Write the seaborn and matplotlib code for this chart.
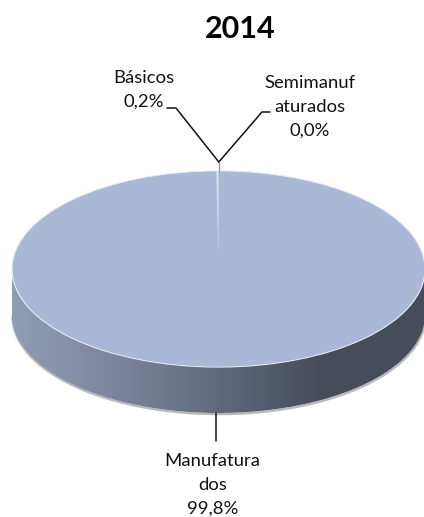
import numpy as np
import matplotlib
matplotlib.use("Agg")
import matplotlib.pyplot as plt
from matplotlib.colors import LinearSegmentedColormap
from matplotlib.patches import PathPatch, Circle
from matplotlib.path import Path
import seaborn as sns

title = "2014"
categories = ["Manufaturados", "Básicos", "Semimanufaturados"]
label_lines = ["Manufatura\ndos", "Básicos", "Semimanuf\naturados"]
shares = [99.8, 0.2, 0.0]

sns.set_theme(style="white")
plt.rcParams["font.family"] = ["Lato", "DejaVu Sans"]

W, H = 424, 517
CX, CY, RX, RY, DEPTH = 218.5, 269.0, 206.5, 98.0, 46.0
fig = plt.figure(figsize=(W / 100, H / 100), dpi=100, facecolor="white")
ax = fig.add_axes([0, 0, 1, 1])

def ux(px):
    return (px - CX) / RX

def uy(py):
    return (CY - py) / RY

# cylinder side, drawn below the pie top
t = np.linspace(np.pi, 2 * np.pi, 240)
d = DEPTH / RY
top_edge = np.column_stack([np.cos(t), np.sin(t)])
low_edge = np.column_stack([np.cos(t[::-1]), np.sin(t[::-1]) - d])
side = Path(np.vstack([top_edge, low_edge, top_edge[:1]]))

ax.plot(np.cos(t) + 0.002, np.sin(t) - d - 0.012, color="#b9b9b9", lw=1.6, zorder=1)
cmap = LinearSegmentedColormap.from_list(
    "side", ["#8f9eb5", "#7b869c", "#5f6a7d", "#474c59", "#474c59"],
    N=256)
grad = ax.imshow(np.linspace(0, 1, 256)[None, :], cmap=cmap, aspect="auto",
                 extent=(-1, 1, -1 - d, 0), zorder=2)
grad.set_clip_path(PathPatch(side, transform=ax.transData))

ax.add_patch(Circle((0, 0), 1, fc="#a9b8d6", ec="#e6ebf3", lw=0.9, zorder=2.5))
wedges, _ = ax.pie(shares, colors=["#a9b8d6", "#d5deeb", "#a9b8d6"],
                   startangle=90, counterclock=False, radius=1,
                   wedgeprops=dict(edgecolor="none", linewidth=0))
for w in wedges:
    w.set_zorder(3)
# the thin slice's point sits a little above the disc centre
apex = uy(258)
wedges[1].set_center((0, apex))
wedges[1].set_radius(1 - apex)
wedges[0].set_radius(0.995)

ax.set_aspect("auto")
ax.set_xlim(ux(0), ux(W))
ax.set_ylim(uy(H), uy(0))
ax.axis("off")

def fmt(v):
    return f"{v:.1f}".replace(".", ",") + "%"

# leader lines
lc = "#111111"
ax.plot([ux(167), ux(176), ux(218.8)], [uy(108), uy(108), uy(162)], color=lc, lw=1.1, zorder=5)
ax.plot([ux(218.8), ux(262), ux(270)], [uy(162), uy(112), uy(112)], color=lc, lw=1.1, zorder=5)
ax.plot([ux(218.8), ux(218.8)], [uy(162), uy(171)], color="#7f9cc0", lw=1.0, zorder=5)
ax.plot([ux(216), ux(216)], [uy(413), uy(441)], color=lc, lw=1.1, zorder=5)

fs = 13.3
tc = "#111111"
ls = 1.62
ax.text(ux(143.5), uy(90), f"{label_lines[1]}\n{fmt(shares[1])}", ha="center", va="center",
        fontsize=fs, color=tc, linespacing=ls)
ax.text(ux(310), uy(107), f"{label_lines[2]}\n{fmt(shares[2])}", ha="center", va="center",
        fontsize=fs, color=tc, linespacing=ls)
ax.text(ux(212.5), uy(485), f"{label_lines[0]}\n{fmt(shares[0])}", ha="center", va="center",
        fontsize=fs, color=tc, linespacing=ls)
ax.text(ux(240), uy(29), title, ha="center", va="center", fontsize=22,
        fontweight="bold", color="#000000")

fig.savefig("out.png", dpi=100)
